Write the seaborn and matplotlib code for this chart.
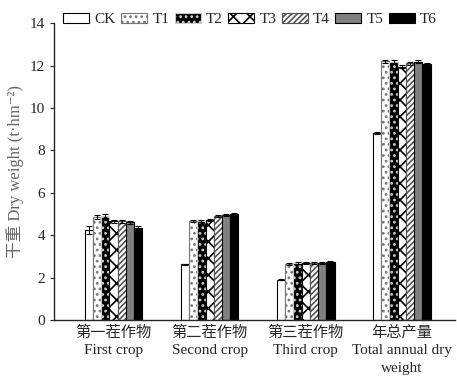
import numpy as np
import pandas as pd
import seaborn as sns
import matplotlib
matplotlib.use("Agg")
import matplotlib.pyplot as plt

# values (t/hm2)
crops = ["第一茬作物\nFirst crop", "第二茬作物\nSecond crop",
         "第三茬作物\nThird crop", "年总产量\nTotal annual dry\nweight"]
treatments = ["CK", "T1", "T2", "T3", "T4", "T5", "T6"]
ck = [4.25, 2.62, 1.90, 8.80]
t1 = [4.85, 4.65, 2.65, 12.20]
t2 = [4.90, 4.65, 2.70, 12.18]
t3 = [4.65, 4.70, 2.70, 11.95]
t4 = [4.65, 4.90, 2.70, 12.10]
t5 = [4.60, 4.95, 2.70, 12.18]
t6 = [4.35, 5.00, 2.75, 12.05]
err_ck = [0.20, 0.04, 0.04, 0.05]
err_t = [0.08, 0.04, 0.04, 0.08]

sns.set_style("ticks")
plt.rcParams['font.family'] = ['Liberation Serif', 'Noto Sans CJK SC', 'DejaVu Serif']
plt.rcParams['hatch.linewidth'] = 1.2

vals = [ck, t1, t2, t3, t4, t5, t6]
rows = []
for t, v in zip(treatments, vals):
    for c, y in zip(crops, v):
        rows.append({"crop": c, "trt": t, "dw": y})
df = pd.DataFrame(rows)

fig = plt.figure(figsize=(4.57, 3.85), dpi=100)
ax = fig.add_axes([0.118, 0.169, 0.877, 0.771])

sns.barplot(data=df, x="crop", y="dw", hue="trt", order=crops,
            hue_order=treatments, width=0.6, errorbar=None, ax=ax,
            palette=["white"] * 7, edgecolor="black", linewidth=0.8)

styles = [
    ("white", "black", ""),
    ("white", "#777777", "..."),
    ("black", "#cccccc", "..."),
    ("white", "black", "xx"),
    ("white", "#555555", "//////"),
    ("#808080", "#333333", ""),
    ("black", "black", ""),
]
bar_conts = list(ax.containers)
for i, cont in enumerate(bar_conts):
    fc, hc, h = styles[i]
    for p in cont:
        p.set_facecolor(fc)
        p.set_hatch(h)
        p.set_edgecolor(hc if h else "black")
        p.set_linewidth(0.8)
    xs = [p.get_x() + p.get_width() / 2 for p in cont]
    ys = [p.get_height() for p in cont]
    er = err_ck if i == 0 else err_t
    ax.errorbar(xs, ys, yerr=er, fmt="none", ecolor="black",
                elinewidth=0.8, capsize=2, capthick=0.8)

ax.set_ylim(0, 14)
ax.set_yticks(range(0, 15, 2))
ax.set_xlim(-0.62, 3.55)
ax.set_xlabel("")
ax.set_ylabel("干重 Dry weight (t·hm⁻²)", color="#666666", fontsize=12)
ax.tick_params(axis="both", labelsize=11, length=3, width=0.8)
ax.tick_params(axis="x", length=0, pad=4)
for lab in ax.get_xticklabels():
    lab.set_linespacing(1.45)
sns.despine(ax=ax)
for s in ["left", "bottom"]:
    ax.spines[s].set_linewidth(1.0)

handles, labels = ax.get_legend_handles_labels()
for i, hd in enumerate(handles):
    fc, hc, h = styles[i]
    hd.set_facecolor(fc)
    hd.set_hatch(h)
    hd.set_edgecolor(hc if h else "black")
ax.legend(handles, labels, ncol=7, loc="upper left",
          bbox_to_anchor=(0.0, 1.065), frameon=False, fontsize=11,
          handlelength=1.7, handleheight=0.6, handletextpad=0.35,
          columnspacing=0.35, borderaxespad=0.2)

fig.savefig("out.png", dpi=100)
